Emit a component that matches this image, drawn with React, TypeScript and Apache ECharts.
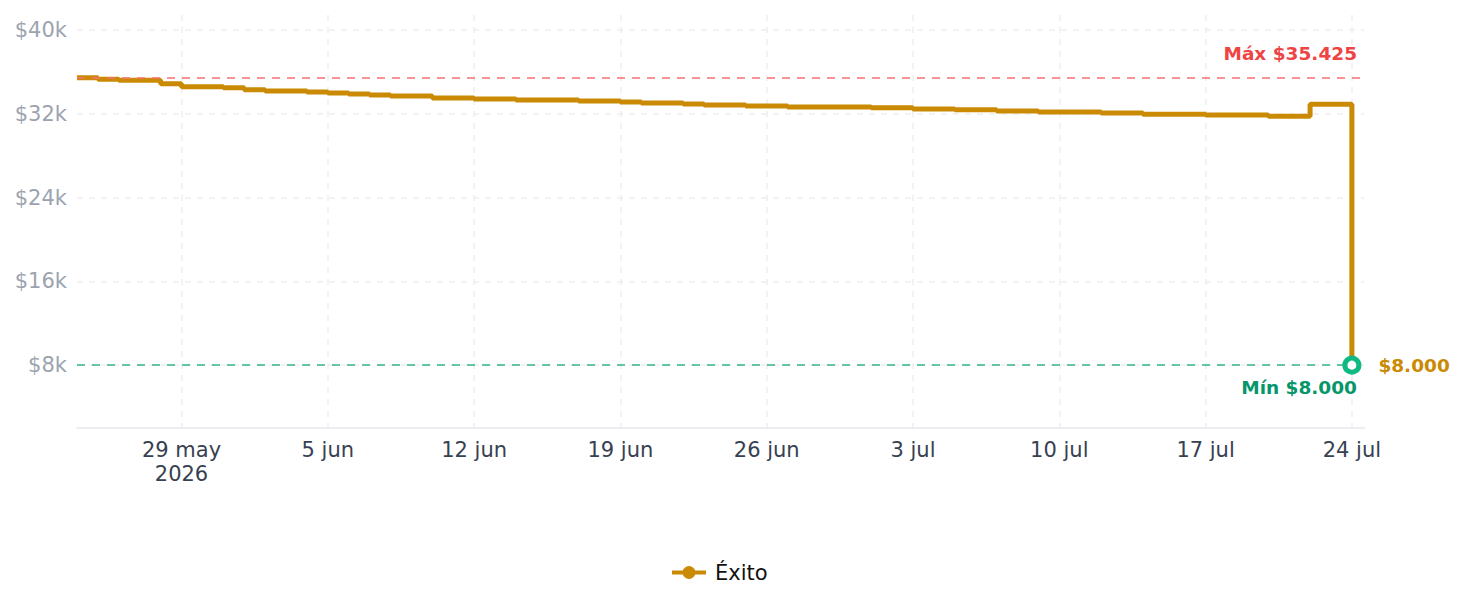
import React, { useEffect, useRef } from "react";
import * as echarts from "echarts";

const seriesName = "Éxito";
const dates = [
  "2026-05-24", "2026-05-25", "2026-05-26", "2026-05-28", "2026-05-29", "2026-05-31",
  "2026-06-01", "2026-06-02", "2026-06-04", "2026-06-05", "2026-06-06", "2026-06-07",
  "2026-06-08", "2026-06-10", "2026-06-12", "2026-06-14", "2026-06-17", "2026-06-19",
  "2026-06-20", "2026-06-22", "2026-06-23", "2026-06-25", "2026-06-27", "2026-07-01",
  "2026-07-03", "2026-07-05", "2026-07-07", "2026-07-09", "2026-07-12", "2026-07-14",
  "2026-07-17", "2026-07-20", "2026-07-22", "2026-07-24",
];
const values = [
  35425, 35300, 35200, 34860, 34570, 34480,
  34290, 34160, 34070, 33970, 33880, 33780,
  33690, 33500, 33400, 33300, 33210, 33110,
  33020, 32920, 32830, 32730, 32640, 32560,
  32460, 32370, 32270, 32170, 32070, 31960,
  31880, 31760, 32900, 8000,
];
const xTickDates = [
  "2026-05-29", "2026-06-05", "2026-06-12", "2026-06-19", "2026-06-26",
  "2026-07-03", "2026-07-10", "2026-07-17", "2026-07-24",
];
const yTicks = [8000, 16000, 24000, 32000, 40000];
const monthNames = ["ene", "feb", "mar", "abr", "may", "jun", "jul", "ago", "sep", "oct", "nov", "dic"];

const DAY = 86400000;
const toTs = (s: string) => {
  const [y, m, d] = s.split("-").map(Number);
  return Date.UTC(y, m - 1, d);
};
const fmtMoney = (v: number) =>
  "$" + Math.round(v).toString().replace(/\B(?=(\d{3})+(?!\d))/g, ".");

const GOLD = "#ca8a04";
const FONT = "DejaVu Sans";

export default function App() {
  const ref = useRef<HTMLDivElement>(null);
  useEffect(() => {
    document.body.style.margin = "0";
    if (!ref.current) return;
    const chart = echarts.init(ref.current, undefined, { renderer: "svg" });
    const data = dates.map((d, i) => [toTs(d), values[i]]);
    const maxV = Math.max(...values);
    const minV = Math.min(...values);
    const last = data[data.length - 1];
    const xTicks = xTickDates.map(toTs);
    const firstTick = xTicks[0];
    chart.setOption({
      animation: false,
      textStyle: { fontFamily: FONT },
      grid: { left: 77, right: 101, top: 15, bottom: 179, containLabel: false },
      legend: {
        bottom: 24,
        left: 670,
        padding: 0,
        itemWidth: 34,
        itemHeight: 16,
        lineStyle: { width: 4 },
        textStyle: { fontSize: 21, color: "#111", fontFamily: FONT, padding: [0, 0, 0, 4] },
        data: [seriesName],
      },
      xAxis: {
        type: "value",
        min: toTs(dates[0]),
        max: toTs(dates[dates.length - 1]) + 0.58 * DAY,
        axisLine: { show: true, lineStyle: { color: "#e5e7eb", width: 1.5 } },
        axisTick: { show: false, customValues: xTicks },
        splitLine: {
          show: true,
          lineStyle: { color: "#eeeeee", width: 1.5, type: [6, 6] },
        },
        axisLabel: {
          customValues: xTicks,
          color: "#374151",
          fontSize: 21,
          margin: 10,
          lineHeight: 24,
          fontFamily: FONT,
          formatter: (v: number) => {
            const d = new Date(v);
            const s = d.getUTCDate() + " " + monthNames[d.getUTCMonth()];
            return v === firstTick ? s + "\n" + d.getUTCFullYear() : s;
          },
        },
      },
      yAxis: {
        type: "value",
        min: 2000,
        max: 41425,
        axisLine: { show: false },
        axisTick: { show: false, customValues: yTicks },
        splitLine: {
          show: true,
          lineStyle: { color: "#eeeeee", width: 1.5, type: [6, 6] },
        },
        axisLabel: {
          customValues: yTicks,
          color: "#9ca3af",
          fontSize: 21,
          margin: 10,
          fontFamily: FONT,
          formatter: (v: number) => "$" + v / 1000 + "k",
        },
      },
      series: [
        {
          name: seriesName,
          type: "line",
          step: "end",
          data,
          symbol: "circle",
          symbolSize: 10,
          showSymbol: false,
          itemStyle: { color: GOLD },
          lineStyle: { color: GOLD, width: 5 },
          markLine: {
            silent: true,
            symbol: "none",
            data: [
              {
                yAxis: maxV,
                lineStyle: { color: "#f87171", width: 1.5, type: [8, 7] },
                label: {
                  show: true,
                  position: "insideEndTop",
                  distance: [7, 15],
                  formatter: "Máx " + fmtMoney(maxV),
                  color: "#ef4444",
                  fontWeight: "bold",
                  fontSize: 18.5,
                  fontFamily: FONT,
                },
              },
              {
                yAxis: minV,
                lineStyle: { color: "#34b48c", width: 1.5, type: [8, 7] },
                label: {
                  show: true,
                  position: "insideEndBottom",
                  distance: [7, 13],
                  formatter: "Mín " + fmtMoney(minV),
                  color: "#059669",
                  fontWeight: "bold",
                  fontSize: 18.5,
                  fontFamily: FONT,
                },
              },
            ],
          },
          markPoint: {
            silent: true,
            data: [
              {
                coord: last,
                symbol: "circle",
                symbolSize: 14,
                itemStyle: { color: "#ffffff", borderColor: "#10b981", borderWidth: 5 },
                label: {
                  show: true,
                  position: "right",
                  distance: 17,
                  formatter: fmtMoney(last[1]),
                  color: GOLD,
                  fontWeight: "bold",
                  fontSize: 18.5,
                  fontFamily: FONT,
                },
              },
            ],
          },
        },
      ],
    });
    return () => chart.dispose();
  }, []);
  return <div ref={ref} style={{ width: 1465, height: 607 }} />;
}
